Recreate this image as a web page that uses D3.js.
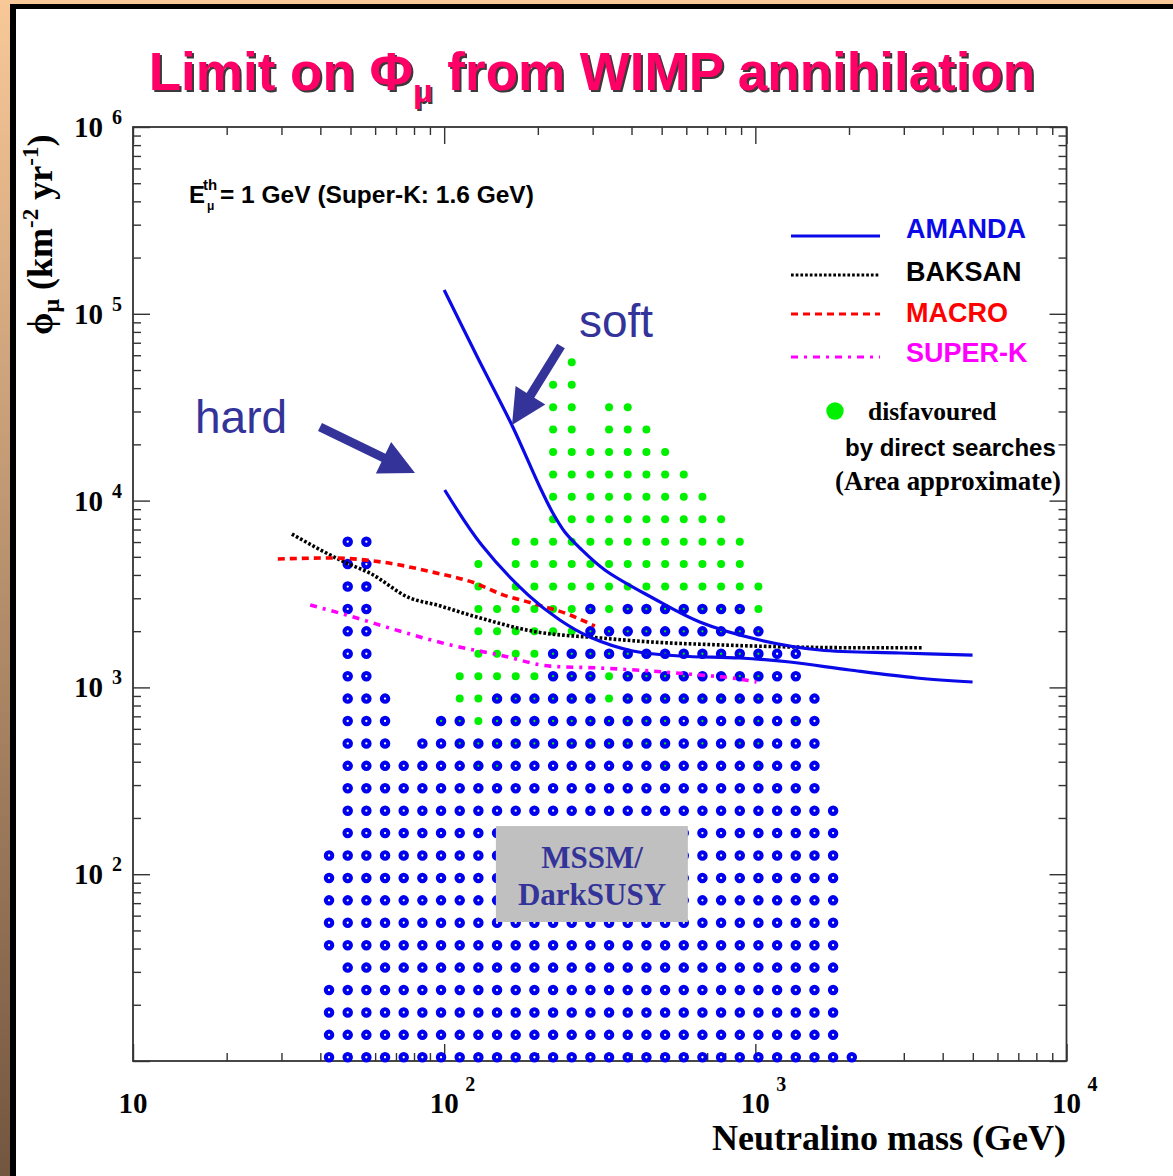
<!DOCTYPE html>
<html><head><meta charset="utf-8">
<script src="https://cdn.jsdelivr.net/npm/d3@7"></script>
<style>body{margin:0;background:#fff;overflow:hidden}</style>
</head><body>
<svg id="c" width="1173" height="1176"></svg>
<script>
// ---------- data ----------
const massCols = [42.66,48.98,56.23,64.57,74.13,85.11,97.72,112.2,128.8,147.9,169.8,195.0,223.9,257.0,295.1,338.8,389.0,446.7,512.9,588.8,676.1,776.2,891.3,1023,1175,1349,1549,1778,2042];
const fluxRows = [10.47,13.80,18.20,23.99,31.62,41.69,54.95,72.44,95.50,125.9,166.0,218.8,288.4,380.2,501.2,660.7,871.0,1148,1514,1995,2630,3467,4571,6026,7943,10470,13800,18200,23990,31620,41690,54950];
// MSSM/DarkSUSY models (blue), runs of column indices per flux row
const blueRuns = [
 [[0,28]],[[0,27]],[[0,27]],[[0,27]],[[1,27]],[[0,27]],[[0,27]],[[0,27]],[[0,27]],[[0,27]],
 [[1,27]],[[1,27]],[[1,26]],[[1,26]],[[1,3],[5,26]],[[1,3],[6,7],[9,26]],[[1,3],[9,14],[16,26]],
 [[1,2],[12,14],[16,25]],[[1,2],[12,25]],[[1,2],[14,23]],[[1,2],[14,14],[16,22]],[[1,2]],[[1,2]],[[1,2]]
];
// disfavoured by direct searches (green)
const greenRuns = [[],[],[],[],[],[],[],[],[],[],[],[],[],
 [[8,9],[18,18],[23,23]],
 [[7,18],[20,20],[22,23]],
 [[6,18],[20,20],[22,23],[25,25]],
 [[7,23]],[[7,23]],[[8,23]],[[8,23]],[[8,23]],
 [[8,8],[10,23]],[[8,8],[10,22]],[[10,22]],[[12,21]],[[12,20]],[[12,19]],[[12,18]],
 [[12,13],[15,17]],[[12,13],[15,16]],[[12,13]],[[13,13]]];
const amandaSoft = [[100,134000],[128.3,58000],[165,25400],[203,11825],[223.5,8582],[244.2,6790],[272.9,5576],[328.4,4251],[468.2,3010],[662.8,2239],[1033,1793],[1610,1586],[2910,1528],[4990,1490]];
const amandaHard = [[100.4,11400],[132,5780],[186,3130],[235.3,2295],[293.8,1861],[403.8,1566],[571.6,1473],[891,1437],[1290,1368],[2011,1239],[3300,1123],[4990,1069]];
const baksan = [[32.4,6620],[48.6,4630],[57.7,4090],[77.6,3010],[94.8,2760],[121,2440],[199,1980],[316,1840],[464,1750],[757,1690],[2160,1630],[3430,1630]];
const macro = [[29.2,4870],[42.9,4930],[63.1,4690],[91.3,4150],[125.5,3620],[154.5,3130],[191,2830],[254,2440],[305,2130]];
const superK = [[37.1,2760],[48.6,2440],[73.6,1980],[104.2,1690],[151,1490],[219,1300],[316,1270],[458,1225],[663,1165],[845,1122],[1009,1069]];
const xDecades = [10,100,1000,10000];
const yDecades = [100,1000,10000,100000,1000000];
const legendItems = [
 {name:"AMANDA", color:"#0a0ae8", dash:null},
 {name:"BAKSAN", color:"#000000", dash:"2.7,2"},
 {name:"MACRO", color:"#ff0000", dash:"7,5"},
 {name:"SUPER-K", color:"#ff00ff", dash:"7,6,3,6"}
];

// ---------- drawing ----------
const svg = d3.select("#c");
const SERIF = "'Liberation Serif','Times New Roman',serif";
const SANS = "'Liberation Sans',Arial,sans-serif";
const defs = svg.append("defs");
const lg = defs.append("linearGradient").attr("id","side").attr("x1",0).attr("y1",0).attr("x2",0).attr("y2",1);
lg.append("stop").attr("offset",0).attr("stop-color","#f8c898");
lg.append("stop").attr("offset",1).attr("stop-color","#735640");

svg.append("rect").attr("width",1173).attr("height",1176).attr("fill","#fff");
svg.append("rect").attr("x",0).attr("y",0).attr("width",1173).attr("height",5).attr("fill","#f8c898");
svg.append("rect").attr("x",0).attr("y",0).attr("width",10).attr("height",1176).attr("fill","url(#side)");
svg.append("rect").attr("x",10).attr("y",4).attr("width",1163).attr("height",5).attr("fill","#000");
svg.append("rect").attr("x",10).attr("y",4).attr("width",6).attr("height",1172).attr("fill","#000");

const x = d3.scaleLog().domain([10,1e4]).range([133,1066.5]);
const y = d3.scaleLog().domain([10,1e6]).range([1061,127]);

// title
function title(g, dx, dy, fill){
  const t = g.append("text").attr("x",592+dx).attr("y",90+dy).attr("text-anchor","middle")
    .attr("font-family",SANS).attr("font-weight","bold").attr("font-size",53).attr("fill",fill);
  t.append("tspan").text("Limit on Φ");
  t.append("tspan").attr("font-size",32).attr("dy",12).text("μ");
  t.append("tspan").attr("dy",-12).text(" from WIMP annihilation");
}
title(svg,2,2,"#3a3a3a");
title(svg,0,0,"#ff0066");

// axes ticks
const tickCol = "#333";
const xt = x.ticks(), yt = y.ticks();
const isDec = v => Math.abs(Math.log10(v) - Math.round(Math.log10(v))) < 1e-6;
const xMaj = xt.filter(isDec), xMin = xt.filter(v=>!isDec(v));
const yMaj = yt.filter(isDec), yMin = yt.filter(v=>!isDec(v));
function ax(gen, tr, vals, size){
  const g = svg.append("g").attr("transform",tr).attr("color",tickCol)
    .call(gen.tickValues(vals).tickSize(size).tickSizeOuter(0).tickFormat(""));
  g.select(".domain").remove();
  g.selectAll("line").attr("stroke-width",1.4);
}
ax(d3.axisTop(x), "translate(0,1061)", xMin, 8);
ax(d3.axisTop(x), "translate(0,1061)", xMaj, 17);
ax(d3.axisBottom(x), "translate(0,127)", xMin, 8);
ax(d3.axisBottom(x), "translate(0,127)", xMaj, 17);
ax(d3.axisRight(y), "translate(133,0)", yMin, 8);
ax(d3.axisRight(y), "translate(133,0)", yMaj, 17);
ax(d3.axisLeft(y), "translate(1066.5,0)", yMin, 8);
ax(d3.axisLeft(y), "translate(1066.5,0)", yMaj, 17);
svg.append("rect").attr("x",133).attr("y",127).attr("width",933.5).attr("height",934)
  .attr("fill","none").attr("stroke","#333").attr("stroke-width",1.8);

// tick labels
xDecades.forEach(v=>{
  const e = Math.round(Math.log10(v));
  svg.append("text").attr("x",x(v)).attr("y",1113).attr("text-anchor","middle").attr("font-family",SERIF)
    .attr("font-weight","bold").attr("font-size",29).text("10");
  if(e!==1) svg.append("text").attr("x",x(v)+21).attr("y",1091).attr("font-family",SERIF).attr("font-weight","bold").attr("font-size",20).text(e);
});
yDecades.forEach(v=>{
  const e = Math.round(Math.log10(v));
  svg.append("text").attr("x",74).attr("y",y(v)+10).attr("font-family",SERIF).attr("font-weight","bold").attr("font-size",29).text("10");
  svg.append("text").attr("x",112).attr("y",y(v)-3).attr("font-family",SERIF).attr("font-weight","bold").attr("font-size",20).text(e);
});

// axis titles
svg.append("text").attr("x",1066).attr("y",1150).attr("text-anchor","end").attr("font-family",SERIF)
  .attr("font-weight","bold").attr("font-size",36).text("Neutralino mass (GeV)");
const yl = svg.append("text").attr("transform","translate(52,335) rotate(-90)").attr("font-family",SERIF)
  .attr("font-weight","bold").attr("font-size",36);
yl.append("tspan").text("ϕ");
yl.append("tspan").attr("font-size",24).attr("dy",7).text("μ");
yl.append("tspan").attr("dy",-7).text(" (km");
yl.append("tspan").attr("font-size",23).attr("dy",-14).text("-2");
yl.append("tspan").attr("dy",14).text(" yr");
yl.append("tspan").attr("font-size",23).attr("dy",-14).text("-1");
yl.append("tspan").attr("dy",14).text(")");

// dots
function expand(runs){
  const pts=[];
  runs.forEach((row,r)=>row.forEach(([a,b])=>{for(let c=a;c<=b;c++) pts.push([massCols[c],fluxRows[r]]);}));
  return pts;
}
svg.append("g").selectAll("circle").data(expand(greenRuns)).join("circle")
  .attr("cx",d=>x(d[0])).attr("cy",d=>y(d[1])).attr("r",4).attr("fill","#00f000");
svg.append("g").selectAll("circle").data(expand(blueRuns)).join("circle")
  .attr("cx",d=>x(d[0])).attr("cy",d=>y(d[1])).attr("r",3.2).attr("fill","none")
  .attr("stroke","#0000ee").attr("stroke-width",4.1);

// gray box
svg.append("rect").attr("x",x(146.6)).attr("y",y(181)).attr("width",x(607)-x(146.6)).attr("height",y(55.5)-y(181)).attr("fill","#c0c0c0");
svg.append("text").attr("x",592).attr("y",868).attr("text-anchor","middle").attr("font-family",SERIF).attr("font-weight","bold").attr("font-size",31).attr("fill","#333399").text("MSSM/");
svg.append("text").attr("x",592).attr("y",905).attr("text-anchor","middle").attr("font-family",SERIF).attr("font-weight","bold").attr("font-size",31).attr("fill","#333399").text("DarkSUSY");

// curves
const lineM = d3.line().x(d=>x(d[0])).y(d=>y(d[1])).curve(d3.curveMonotoneX);
const lineC = d3.line().x(d=>x(d[0])).y(d=>y(d[1])).curve(d3.curveCatmullRom.alpha(0.5));
function curve(data,color,dash,w,gen){
  const p = svg.append("path").attr("d",gen(data)).attr("fill","none").attr("stroke",color).attr("stroke-width",w);
  if(dash) p.attr("stroke-dasharray",dash);
}
curve(baksan,"#000",legendItems[1].dash,3.6,lineM);
curve(macro,"#ff0000",legendItems[2].dash,3.6,lineM);
curve(superK,"#ff00ff",legendItems[3].dash,3.6,lineM);
curve(amandaSoft,legendItems[0].color,null,3.2,lineC);
curve(amandaHard,legendItems[0].color,null,3.2,lineC);

// legend
const legY = [236,275,314,357], legTY = [238,281,322,362];
legendItems.forEach((it,i)=>{
  const l = svg.append("line").attr("x1",791).attr("x2",880).attr("y1",legY[i]).attr("y2",legY[i])
    .attr("stroke",it.color).attr("stroke-width",3.2);
  if(it.dash) l.attr("stroke-dasharray",it.dash);
  svg.append("text").attr("x",906).attr("y",legTY[i]).attr("font-family",SANS).attr("font-weight","bold")
    .attr("font-size",27).attr("fill",it.color).text(it.name);
});
svg.append("circle").attr("cx",835).attr("cy",411).attr("r",8.7).attr("fill","#00f000");
svg.append("text").attr("x",868).attr("y",420).attr("font-family",SERIF).attr("font-weight","bold").attr("font-size",25.5).text("disfavoured");
svg.append("text").attr("x",845).attr("y",456).attr("font-family",SANS).attr("font-weight","bold").attr("font-size",24).text("by direct searches");
svg.append("text").attr("x",835).attr("y",490).attr("font-family",SERIF).attr("font-weight","bold").attr("font-size",26.8).text("(Area approximate)");

// threshold annotation
svg.append("text").attr("x",189).attr("y",203).attr("font-family",SANS).attr("font-weight","bold").attr("font-size",24).text("E");
svg.append("text").attr("x",203).attr("y",190).attr("font-family",SANS).attr("font-weight","bold").attr("font-size",15).text("th");
svg.append("text").attr("x",207).attr("y",210).attr("font-family",SANS).attr("font-weight","bold").attr("font-size",12).text("μ");
svg.append("text").attr("x",220).attr("y",203).attr("font-family",SANS).attr("font-weight","bold").attr("font-size",24.5).text(" = 1 GeV (Super-K: 1.6 GeV)");

// soft / hard annotations
svg.append("text").attr("x",579).attr("y",337).attr("font-family",SANS).attr("font-size",46).attr("fill","#333399").text("soft");
svg.append("text").attr("x",195).attr("y",433).attr("font-family",SANS).attr("font-size",46).attr("fill","#333399").text("hard");
function arrow(x1,y1,x2,y2){
  const dx=x2-x1, dy=y2-y1, L=Math.hypot(dx,dy), ux=dx/L, uy=dy/L, px=-uy, py=ux;
  const hl=35, hw=17.5, sw=4.5;
  const bx=x2-ux*hl, by=y2-uy*hl;
  const pts=[[x1+px*sw,y1+py*sw],[bx+px*sw,by+py*sw],[bx+px*hw,by+py*hw],[x2,y2],[bx-px*hw,by-py*hw],[bx-px*sw,by-py*sw],[x1-px*sw,y1-py*sw]];
  svg.append("polygon").attr("points",pts.map(p=>p.join(",")).join(" ")).attr("fill","#333399");
}
arrow(561,346,512,425);
arrow(320,427,415,473);
</script>
</body></html>
